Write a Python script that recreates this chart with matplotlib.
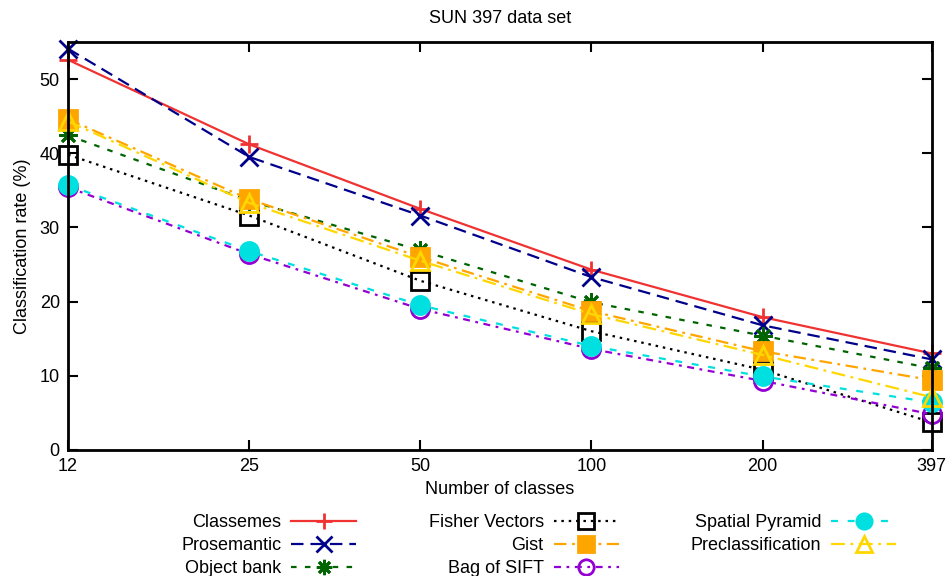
import numpy as np
import matplotlib.pyplot as plt
from matplotlib.ticker import NullLocator

plt.rcParams['font.family'] = ['Liberation Sans', 'DejaVu Sans']
plt.rcParams['font.size'] = 13
plt.rcParams['lines.scale_dashes'] = False

# --- Data ---
classes = [12, 25, 50, 100, 200, 397]
class_labels = ['12', '25', '50', '100', '200', '397']

classemes = [52.6, 41.2, 32.5, 24.3, 17.9, 13.0]
prosemantic = [54.1, 39.5, 31.6, 23.3, 16.8, 12.2]
object_bank = [42.4, 33.6, 26.9, 19.9, 15.4, 11.0]
fisher = [39.8, 31.6, 22.8, 16.0, 10.8, 3.7]
gist = [44.6, 33.8, 26.0, 18.7, 13.3, 9.4]
bag_sift = [35.4, 26.4, 19.0, 13.6, 9.3, 4.8]
spatial_pyr = [35.7, 26.8, 19.5, 14.0, 9.9, 6.4]
preclass = [44.3, 33.3, 25.5, 18.3, 12.8, 7.1]

# --- Series styles (gnuplot look) ---
series = [
    ('Classemes', classemes, '#f03232', '+', (None, None), 'full'),
    ('Prosemantic', prosemantic, '#00008b', 'x', (0, (9, 5)), 'full'),
    ('Object bank', object_bank, '#006400', (8, 2, 0), (0, (4, 6)), 'full'),
    ('Fisher Vectors', fisher, '#000000', 's', (0, (1.8, 3.5)), 'none'),
    ('Gist', gist, '#ffa500', 's', (0, (9, 4, 2, 4)), 'full'),
    ('Bag of SIFT', bag_sift, '#9400d3', 'o', (0, (5, 4, 2, 4)), 'none'),
    ('Spatial Pyramid', spatial_pyr, '#00e0e0', 'o', (0, (5, 7)), 'full'),
    ('Preclassification', preclass, '#ffd700', '^', (0, (10, 4, 2, 4)), 'none'),
]

fig = plt.figure(figsize=(9.46, 5.76), dpi=100)
ax = fig.add_axes([0.072, 0.219, 0.913, 0.708])

for name, vals, col, mk, ls, fill in series:
    linestyle = '-' if ls == (None, None) else ls
    ax.plot(classes, vals, color=col, linestyle=linestyle, linewidth=1.6,
            marker=mk, markersize=13, markeredgewidth=2,
            markerfacecolor=col if fill == 'full' else 'none',
            markeredgecolor=col, clip_on=False, label=name)

ax.set_xscale('log')
ax.set_xlim(12, 397)
ax.set_ylim(0, 55)
ax.set_xticks(classes)
ax.set_xticklabels(class_labels)
ax.xaxis.set_minor_locator(NullLocator())
ax.set_yticks(np.arange(0, 51, 10))

ax.tick_params(direction='in', length=7, width=1.5, top=True, right=True, pad=6)
for sp in ax.spines.values():
    sp.set_linewidth(2)

ax.set_title('SUN 397 data set', fontsize=13, pad=14)
ax.set_xlabel('Number of classes', labelpad=4)
ax.set_ylabel('Classification rate (%)', labelpad=6)

ax.legend(loc='upper center', bbox_to_anchor=(0.545, -0.14), ncol=3,
          frameon=False, markerfirst=False, handlelength=3.6,
          handletextpad=0.55, columnspacing=4.0, labelspacing=0.34,
          markerscale=0.85, fontsize=13, borderaxespad=0)

fig.savefig('out.png', dpi=100)
